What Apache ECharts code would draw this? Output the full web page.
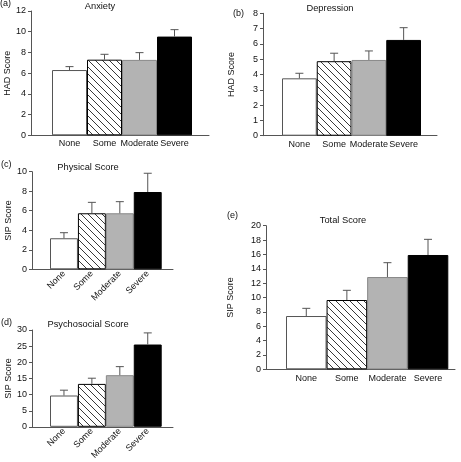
<!DOCTYPE html>
<html><head><meta charset="utf-8">
<script src="https://cdn.jsdelivr.net/npm/echarts@6/dist/echarts.min.js"></script>
<style>html,body{margin:0;padding:0;background:#fff}#c{width:461px;height:462px}</style>
</head><body><div id="c"></div>
<script>
// ---- data ----
const categories = ['None', 'Some', 'Moderate', 'Severe'];
const anxietyMean = [6.3, 7.3, 7.28, 9.53];
const anxietyErr = [0.33, 0.52, 0.7, 0.67];
const depressionMean = [3.75, 4.87, 4.95, 6.26];
const depressionErr = [0.33, 0.52, 0.59, 0.8];
const physicalMean = [3.18, 5.74, 5.74, 7.92];
const physicalErr = [0.57, 1.12, 1.19, 1.92];
const psychosocialMean = [9.7, 13.3, 16.0, 25.5];
const psychosocialErr = [1.65, 1.76, 2.65, 3.6];
const totalMean = [7.42, 9.65, 12.85, 15.92];
const totalErr = [1.07, 1.35, 2.0, 2.18];
const panelTitles = ['Anxiety', 'Depression', 'Physical Score', 'Psychosocial Score', 'Total Score'];
const panelTags = ['(a)', '(b)', '(c)', '(d)', '(e)'];
const yNames = ['HAD Score', 'HAD Score', 'SIP Score', 'SIP Score', 'SIP Score'];
const yMax = [12, 8, 10, 30, 20];
const yInterval = [2, 1, 2, 5, 2];

// ---- layout (pixels) ----
const W = 461, H = 462;
const layout = [
  {yx: 31, end: 209, top: 11, zero: 135.3, bl: 52, br: 192, tx: 100, ty: 6, gx: 0, gy: 4, nameGap: 18, rot: 0, lm: 4},
  {yx: 263, end: 437, top: 13.3, zero: 135.7, bl: 282, br: 421, tx: 330, ty: 8, gx: 233, gy: 14, nameGap: 27, rot: 0, lm: 4},
  {yx: 32, end: 173, top: 171.7, zero: 269.3, bl: 50, br: 161.7, tx: 88, ty: 167, gx: 1, gy: 165, nameGap: 14, rot: 45, lm: 3},
  {yx: 32, end: 173, top: 330, zero: 427, bl: 50, br: 161.7, tx: 88, ty: 324, gx: 1, gy: 323, nameGap: 14, rot: 45, lm: 3},
  {yx: 266, end: 455, top: 225.7, zero: 369.3, bl: 286, br: 448.3, tx: 343, ty: 220, gx: 227, gy: 216, nameGap: 31, rot: 0, lm: 5}
];
const means = [anxietyMean, depressionMean, physicalMean, psychosocialMean, totalMean];
const errs = [anxietyErr, depressionErr, physicalErr, psychosocialErr, totalErr];

// hatch pattern
const pc = document.createElement('canvas');
pc.width = 7; pc.height = 7;
const g = pc.getContext('2d');
g.fillStyle = '#fff'; g.fillRect(0, 0, 7, 7);
g.strokeStyle = '#222'; g.lineWidth = 0.9;
for (const k of [-7, 0, 7]) { g.beginPath(); g.moveTo(k, 0); g.lineTo(k + 7, 7); g.stroke(); }

const barStyles = [
  {color: '#ffffff', borderColor: '#555', borderWidth: 1},
  {color: {image: pc, repeat: 'repeat'}, borderColor: '#000', borderWidth: 1},
  {color: '#b3b3b3', borderColor: '#888', borderWidth: 1},
  {color: '#000000', borderColor: '#000', borderWidth: 1}
];
const FONT = 'Liberation Sans, Arial, Helvetica, sans-serif';

const grid = [], xAxis = [], yAxis = [], series = [], graphic = [];
layout.forEach((L, i) => {
  grid.push({left: L.yx, right: W - L.end, top: L.top, bottom: H - L.zero, containLabel: false});
  grid.push({left: L.bl, right: W - L.br, top: L.top, bottom: H - L.zero, containLabel: false});
  const fg = 2 * i, bg = 2 * i + 1;
  xAxis.push({gridIndex: fg, type: 'value', min: 0, max: 1,
    axisLine: {show: true, lineStyle: {color: '#555', width: 1}},
    axisTick: {show: false}, axisLabel: {show: false}, splitLine: {show: false}});
  yAxis.push({gridIndex: fg, type: 'value', min: 0, max: yMax[i], interval: yInterval[i],
    name: yNames[i], nameLocation: 'middle', nameGap: L.nameGap,
    nameTextStyle: {fontSize: 9, color: '#111', fontFamily: FONT},
    axisLine: {show: true, lineStyle: {color: '#555', width: 1}},
    axisTick: {show: true, length: 3, inside: false, lineStyle: {color: '#555'}},
    axisLabel: {fontSize: 9, color: '#111', margin: 5, fontFamily: FONT},
    splitLine: {show: false}});
  xAxis.push({gridIndex: bg, type: 'category', data: categories,
    axisLine: {show: false}, axisTick: {show: false}, splitLine: {show: false},
    axisLabel: {interval: 0, fontSize: 9, color: '#111', margin: L.lm, rotate: L.rot, fontFamily: FONT}});
  yAxis.push({gridIndex: bg, type: 'value', min: 0, max: yMax[i], show: false, splitLine: {show: false}});
  series.push({type: 'bar', xAxisIndex: bg, yAxisIndex: bg,
    barCategoryGap: '0%', barWidth: '100%', silent: true, animation: false,
    data: means[i].map((v, j) => ({value: v, itemStyle: barStyles[j]}))});
  series.push({type: 'custom', xAxisIndex: bg, yAxisIndex: bg, silent: true, animation: false, z: 5,
    data: means[i].map((v, j) => [j, v, errs[i][j]]),
    encode: {x: 0, y: 1},
    renderItem: function (params, api) {
      const x = api.value(0), m = api.value(1), e = api.value(2);
      const p0 = api.coord([x, m]), p1 = api.coord([x, m + e]);
      const hw = 4;
      return {type: 'group', children: [
        {type: 'line', shape: {x1: p0[0], y1: p0[1], x2: p1[0], y2: p1[1]}, style: {stroke: '#555', lineWidth: 1}},
        {type: 'line', shape: {x1: p1[0] - hw, y1: p1[1], x2: p1[0] + hw, y2: p1[1]}, style: {stroke: '#555', lineWidth: 1}}
      ]};
    }});
  graphic.push({type: 'text', x: L.tx, y: L.ty, style: {text: panelTitles[i], font: '9.3px ' + FONT, fill: '#111', textAlign: 'center', textVerticalAlign: 'middle'}});
  graphic.push({type: 'text', x: L.gx, y: L.gy, style: {text: panelTags[i], font: '9px ' + FONT, fill: '#111', textAlign: 'left', textVerticalAlign: 'middle'}});
});

const chart = echarts.init(document.getElementById('c'), null, {renderer: 'canvas'});
chart.setOption({animation: false, backgroundColor: '#fff', grid, xAxis, yAxis, series, graphic});
</script></body></html>
